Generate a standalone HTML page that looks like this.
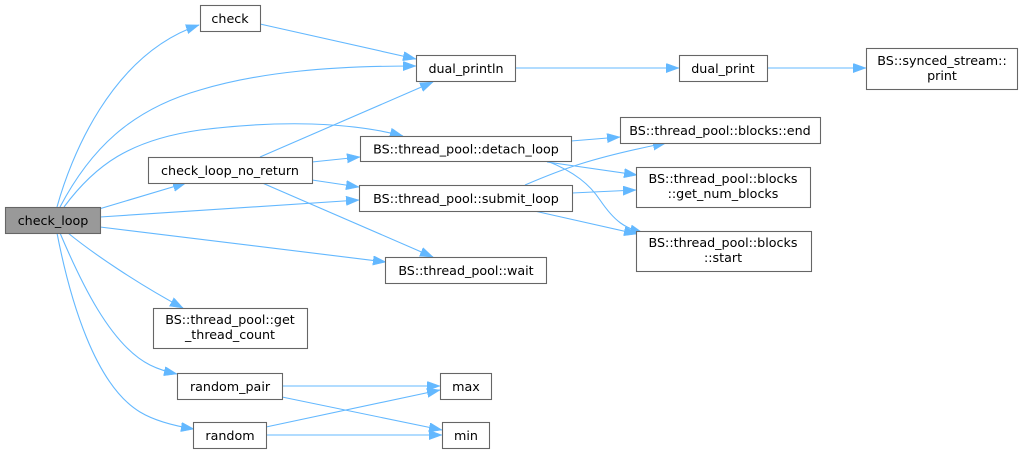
<!DOCTYPE html>
<html><head><meta charset="utf-8"><style>
html,body{margin:0;padding:0;background:#fff;}
svg{display:block;}
text{font-family:"DejaVu Sans","Liberation Sans",sans-serif;font-size:12.7px;fill:#000;text-anchor:middle;}
.n{fill:#fff;stroke:#666;stroke-width:1.1;}
.e{fill:none;stroke:#63b8ff;stroke-width:1.1;}
</style></head><body>
<svg width="1035" height="453" viewBox="0 0 1035 453" xmlns="http://www.w3.org/2000/svg">
<defs>
<marker id="a" markerWidth="14" markerHeight="10" refX="13" refY="4.7" orient="auto" markerUnits="userSpaceOnUse">
<path d="M0,0 L13,4.7 L0,9.4 z" fill="#63b8ff" stroke="#63b8ff" stroke-width="0.5"/>
</marker>
</defs>
<g marker-end="url(#a)">
<path class="e" d="M57,207 C70,160 110,55 199,25"/>
<path class="e" d="M60,207 C90,150 130,110 200,90 C260,72 330,66 416,66"/>
<path class="e" d="M64,207 C95,165 130,140 200,130 C280,120 350,122 403,136"/>
<path class="e" d="M99,209 L186,183"/>
<path class="e" d="M100,217 L359,200"/>
<path class="e" d="M100,227 L386,262"/>
<path class="e" d="M68,233 C95,255 140,285 183,308"/>
<path class="e" d="M60,233 C80,280 110,345 150,365 C160,370 168,372 177,374"/>
<path class="e" d="M57,233 C70,300 95,385 140,412 C155,421 175,426 194,429"/>
<path class="e" d="M260,24 L416,59"/>
<path class="e" d="M260,157 L433,82"/>
<path class="e" d="M312,162 L360,157"/>
<path class="e" d="M312,180 L359,187"/>
<path class="e" d="M260,182 L433,257"/>
<path class="e" d="M515,68 L679,68"/>
<path class="e" d="M767,68 L866,68"/>
<path class="e" d="M571,141 L620,137"/>
<path class="e" d="M547,162 L637,175"/>
<path class="e" d="M547,161 C575,172 590,185 600,200 C615,222 625,228 643,233"/>
<path class="e" d="M525,185 C560,170 590,158 666,143"/>
<path class="e" d="M572,193 L636,190"/>
<path class="e" d="M530,210 L637,234"/>
<path class="e" d="M282,386 L440,386"/>
<path class="e" d="M282,397 L442,430"/>
<path class="e" d="M266,427 L440,390"/>
<path class="e" d="M266,435 L442,435"/>
</g>
<rect x="5.5" y="207.5" width="95" height="26" fill="#999" stroke="#666" stroke-width="1.1"/>
<text x="53" y="225">check_loop</text>
<rect class="n" x="200.5" y="5.5" width="60" height="26"/>
<text x="230" y="23">check</text>
<rect class="n" x="148.5" y="157.5" width="164" height="26"/>
<text x="230" y="175">check_loop_no_return</text>
<rect class="n" x="416.5" y="55.5" width="99" height="26"/>
<text x="466" y="73">dual_println</text>
<rect class="n" x="679.5" y="55.5" width="88" height="26"/>
<text x="723" y="73">dual_print</text>
<rect class="n" x="866.5" y="48.5" width="151" height="41"/>
<text x="942" y="65">BS::synced_stream::</text>
<text x="942" y="80">print</text>
<rect class="n" x="620.5" y="117.5" width="200" height="26"/>
<text x="720" y="135">BS::thread_pool::blocks::end</text>
<rect class="n" x="360.5" y="136.5" width="211" height="25"/>
<text x="466" y="153.5">BS::thread_pool::detach_loop</text>
<rect class="n" x="636.5" y="167.5" width="174" height="40"/>
<text x="723" y="183">BS::thread_pool::blocks</text>
<text x="723" y="198">::get_num_blocks</text>
<rect class="n" x="359.5" y="185.5" width="213" height="26"/>
<text x="466" y="203">BS::thread_pool::submit_loop</text>
<rect class="n" x="636.5" y="231.5" width="175" height="40"/>
<text x="723" y="247">BS::thread_pool::blocks</text>
<text x="723" y="262">::start</text>
<rect class="n" x="385.5" y="257.5" width="161" height="26"/>
<text x="466" y="275">BS::thread_pool::wait</text>
<rect class="n" x="153.5" y="308.5" width="154" height="40"/>
<text x="230" y="324">BS::thread_pool::get</text>
<text x="230" y="339">_thread_count</text>
<rect class="n" x="177.5" y="373.5" width="105" height="26"/>
<text x="230" y="391">random_pair</text>
<rect class="n" x="193.5" y="422.5" width="73" height="26"/>
<text x="230" y="440">random</text>
<rect class="n" x="440.5" y="373.5" width="51" height="26"/>
<text x="466" y="391">max</text>
<rect class="n" x="442.5" y="422.5" width="47" height="26"/>
<text x="466" y="440">min</text>
</svg>
</body></html>
